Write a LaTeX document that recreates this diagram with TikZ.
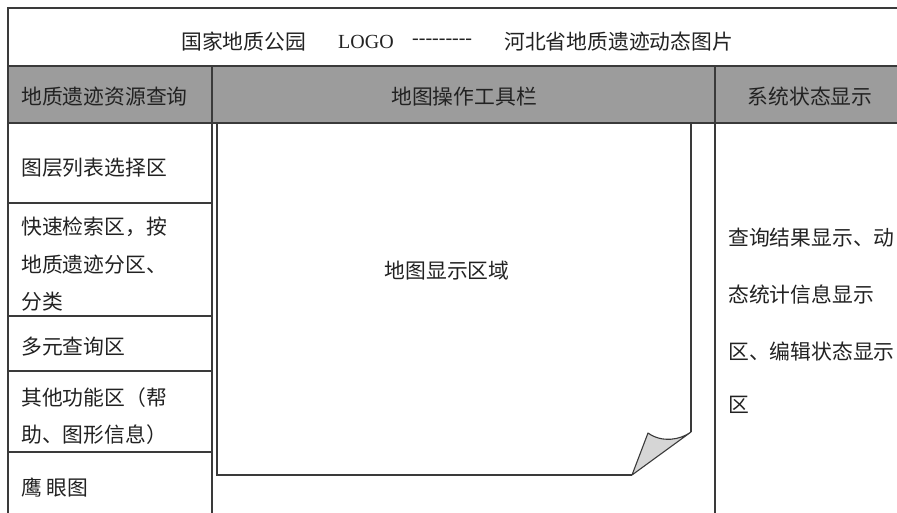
\documentclass[tikz,border=0pt]{standalone}
\usepackage{fontspec}
\setmainfont{Liberation Serif}
\newfontfamily\cjk{Noto Sans CJK SC}
\definecolor{hdrgray}{HTML}{9C9C9C}
\definecolor{linegray}{HTML}{3A3A3A}
\definecolor{foldgray}{HTML}{D6D6D6}
\definecolor{txt}{HTML}{222222}
\begin{document}
\begin{tikzpicture}[x=1pt,y=-1pt,
  frame/.style={draw=linegray,line width=1.4pt},
  thin/.style={draw=linegray,line width=1.1pt},
  lbl/.style={inner sep=0pt,text=txt,font=\cjk\fontsize{20.8}{24}\selectfont},
  lat/.style={inner sep=0pt,text=txt,font=\fontsize{20}{24}\selectfont}]
\useasboundingbox (0,0) rectangle (897,513);
\clip (0,0) rectangle (897,513);
% header band
\fill[hdrgray] (8,66) rectangle (900,123);
% outer frame
\draw[frame] (900,8) -- (8,8) -- (8,520);
\draw[frame] (8,66) -- (900,66);
\draw[frame] (8,123) -- (900,123);
% column dividers
\draw[thin] (212,66) -- (212,520);
\draw[thin] (715,66) -- (715,520);
% left rows
\draw[thin] (8,203) -- (212,203);
\draw[thin] (8,316) -- (212,316);
\draw[thin] (8,371) -- (212,371);
\draw[thin] (8,452) -- (212,452);
% map page
\draw[thin] (691,123) -- (691,432);
\draw[thin] (217,123) -- (217,475) -- (632,475);
\draw[thin,fill=foldgray,line join=round] (632,475) -- (648,433) .. controls (662,443) and (680,440) .. (691,432) -- cycle;
% title
\node[lbl,anchor=west] (t1) at (181,42) {国家地质公园};
\node[lat,anchor=west] (t2) at (338,42) {LOGO};
\node[lat,anchor=west] (t3) at (412,42) {-{}-{}-{}-{}-{}-{}-{}-{}-};
\node[lbl,anchor=west] (t4) at (504,42) {河北省地质遗迹动态图片};
% header labels
\node[lbl,anchor=west] (h1) at (21,97) {地质遗迹资源查询};
\node[lbl] (h2) at (464,97) {地图操作工具栏};
\node[lbl] (h3) at (810,97) {系统状态显示};
% left column
\node[lbl,anchor=west] (l1) at (21,168) {图层列表选择区};
\node[lbl,anchor=west] (l2a) at (21,227) {快速检索区，按};
\node[lbl,anchor=west] (l2b) at (21,265) {地质遗迹分区、};
\node[lbl,anchor=west] (l2c) at (21,302) {分类};
\node[lbl,anchor=west] (l3) at (21,347) {多元查询区};
\node[lbl,anchor=west] (l4a) at (21,398) {其他功能区（帮};
\node[lbl,anchor=west] (l4b) at (21,435) {助、图形信息）};
\node[lbl,anchor=west] (l5) at (21,488) {鹰 眼图};
% map
\node[lbl] (m) at (447,271) {地图显示区域};
% right column
\node[lbl,anchor=west] (r1) at (728,238) {查询结果显示、动};
\node[lbl,anchor=west] (r2) at (728,295) {态统计信息显示};
\node[lbl,anchor=west] (r3) at (728,352) {区、编辑状态显示};
\node[lbl,anchor=west] (r4) at (728,405) {区};
\end{tikzpicture}
\end{document}
